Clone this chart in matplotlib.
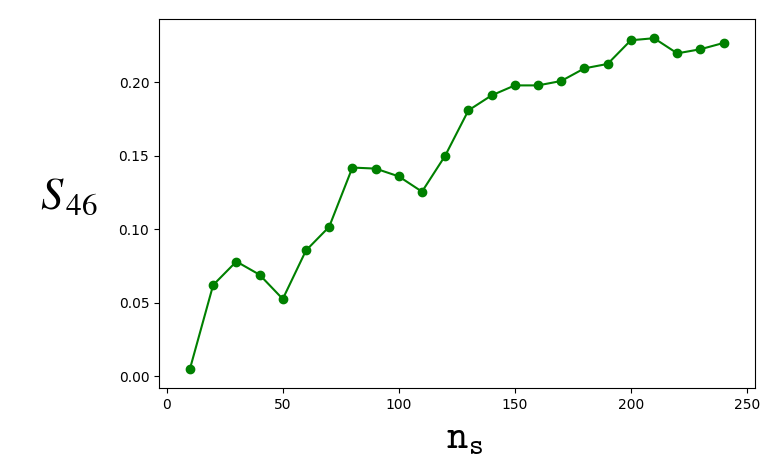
import matplotlib
matplotlib.use("Agg")
import matplotlib.pyplot as plt

# sample sizes and measured S46 values
n_s = [10, 20, 30, 40, 50, 60, 70, 80, 90, 100, 110, 120,
       130, 140, 150, 160, 170, 180, 190, 200, 210, 220, 230, 240]
s46 = [0.005, 0.062, 0.078, 0.069, 0.0525, 0.0855, 0.1016, 0.1419,
       0.1412, 0.1359, 0.1255, 0.150, 0.1808, 0.191, 0.1978, 0.1978,
       0.2008, 0.2094, 0.2124, 0.2285, 0.2299, 0.2196, 0.2224, 0.2267]

fig = plt.figure(figsize=(7.7, 4.7), dpi=100)
ax = fig.add_axes([0.2065, 0.1745, 0.7735, 0.785])

ax.plot(n_s, s46, color='green', marker='o')
ax.margins(0.058)

# y label: big stix S with a little gap before the subscript
ax.set_ylabel(r'$S_{\,46}$', fontsize=32, rotation=0, ha='right', va='center',
              math_fontfamily='stix')
ax.yaxis.set_label_coords(-0.1025, 0.52)
ax.set_xlabel(r'$\mathtt{n_s}$', fontsize=29, math_fontfamily='cm')
ax.xaxis.set_label_coords(0.513, -0.08)

fig.savefig('out.png', dpi=100)
